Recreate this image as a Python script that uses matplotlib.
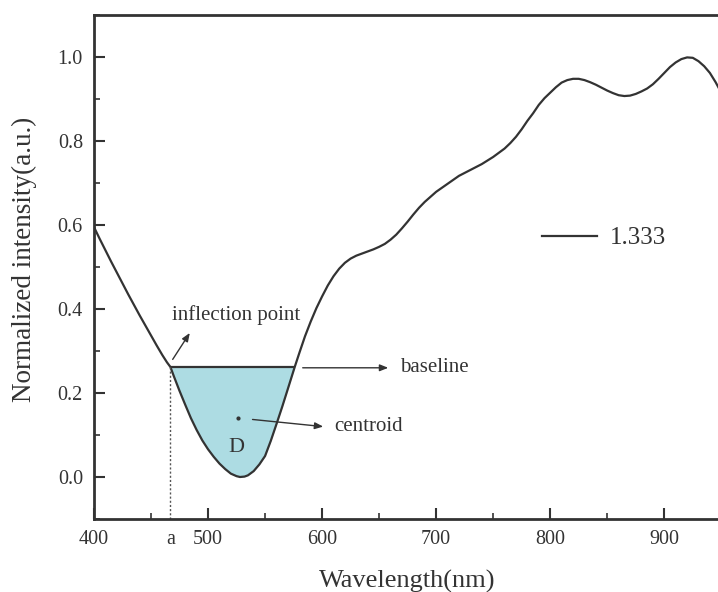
import numpy as np
import matplotlib
matplotlib.use("Agg")
import matplotlib.pyplot as plt
from matplotlib.ticker import MultipleLocator

plt.rcParams['font.family'] = ['Liberation Serif', 'DejaVu Serif']

# ---- data ----
wavelength = [400, 405, 410, 415, 420, 425, 430, 435, 440, 445, 450, 455, 460, 464, 467,
              470, 475, 480, 485, 490, 495, 500, 505, 510, 515, 520, 525, 528, 532, 535,
              540, 545, 550, 555, 560, 565, 570, 576, 580, 585, 590, 595, 600, 605, 610,
              615, 620, 625, 630, 635, 640, 645, 650, 655, 660, 665, 670, 675, 680, 685,
              690, 695, 700, 710, 720, 730, 740, 750, 760, 765, 770, 775, 780, 785, 790,
              795, 800, 805, 810, 815, 820, 825, 830, 835, 840, 845, 850, 855, 860, 865,
              870, 875, 880, 885, 890, 895, 900, 905, 910, 915, 920, 925, 930, 935, 940,
              945, 950]
intensity = [0.595, 0.567, 0.540, 0.513, 0.487, 0.461, 0.435, 0.410, 0.385, 0.361, 0.337, 0.313, 0.290, 0.273, 0.262,
             0.240, 0.205, 0.172, 0.140, 0.112, 0.087, 0.066, 0.048, 0.032, 0.019, 0.008, 0.002, 0.0, 0.001, 0.004,
             0.014, 0.030, 0.050, 0.086, 0.126, 0.167, 0.210, 0.262, 0.295, 0.335, 0.370, 0.402, 0.430, 0.456, 0.478,
             0.496, 0.510, 0.520, 0.527, 0.532, 0.537, 0.542, 0.548, 0.555, 0.565, 0.577, 0.592, 0.608, 0.625, 0.641,
             0.655, 0.667, 0.679, 0.698, 0.717, 0.731, 0.745, 0.762, 0.782, 0.795, 0.810, 0.828, 0.848, 0.866, 0.886,
             0.902, 0.915, 0.928, 0.939, 0.945, 0.948, 0.948, 0.945, 0.940, 0.934, 0.927, 0.920, 0.914, 0.909, 0.907,
             0.908, 0.912, 0.918, 0.925, 0.935, 0.948, 0.962, 0.976, 0.987, 0.995, 0.999, 0.998, 0.990, 0.978, 0.962,
             0.940, 0.915]
series_label = "1.333"
inflection_x = 467
right_x = 576
baseline_y = 0.262
centroid = (526, 0.14)
xtick_values = [400, 467, 500, 600, 700, 800, 900]
xtick_labels = ["400", "a", "500", "600", "700", "800", "900"]
ytick_values = [0.0, 0.2, 0.4, 0.6, 0.8, 1.0]
ytick_labels = ["0.0", "0.2", "0.4", "0.6", "0.8", "1.0"]

x = np.array(wavelength)
y = np.array(intensity)

fig = plt.figure(figsize=(7.18, 5.92), dpi=100)
ax = fig.add_axes([0.1309, 0.1233, 0.8737, 0.8514])
dark = '#333333'

ax.plot(x, y, color=dark, lw=1.6, label=series_label)

mask = (x >= inflection_x) & (x <= right_x)
ax.fill_between(x, y, baseline_y, where=mask, color='#ADDCE3', lw=0)
ax.hlines(baseline_y, inflection_x, right_x, color=dark, lw=1.6)
ax.vlines(inflection_x, -0.1, baseline_y, color='#555555', lw=1.0, linestyles=(0, (1.5, 1.5)))
ax.plot([centroid[0]], [centroid[1]], 'o', ms=2, color=dark)

ax.set_xlim(400, 950)
ax.set_ylim(-0.1, 1.1)

arrow = dict(arrowstyle='-|>,head_length=0.5,head_width=0.2', color=dark, lw=1.0, shrinkA=0, shrinkB=0)
ax.annotate('', xy=(484, 0.343), xytext=(469, 0.28), arrowprops=arrow)
ax.text(525, 0.386, 'inflection point', ha='center', va='center', fontsize=15, color=dark)
ax.annotate('', xy=(658, 0.26), xytext=(583, 0.26), arrowprops=arrow)
ax.text(668, 0.26, 'baseline', ha='left', va='center', fontsize=15, color=dark)
ax.annotate('', xy=(601, 0.12), xytext=(539, 0.137), arrowprops=arrow)
ax.text(611, 0.12, 'centroid', ha='left', va='center', fontsize=15, color=dark)
ax.text(525, 0.07, 'D', ha='center', va='center', fontsize=16, color=dark)

ax.set_xticks(xtick_values)
ax.set_xticklabels(xtick_labels)
ax.set_yticks(ytick_values)
ax.set_yticklabels(ytick_labels)
ax.xaxis.set_minor_locator(MultipleLocator(50))
ax.yaxis.set_minor_locator(MultipleLocator(0.1))
ax.tick_params(which='major', direction='in', length=8, width=1.5, colors=dark, labelsize=14.5, pad=8)
ax.tick_params(which='minor', direction='in', length=4, width=1.2, colors=dark)
ax.xaxis.get_major_ticks()[1].tick1line.set_visible(False)

for s in ['left', 'bottom', 'top']:
    ax.spines[s].set_linewidth(2)
    ax.spines[s].set_color(dark)
ax.spines['right'].set_visible(False)

ax.set_xlabel('Wavelength(nm)', fontsize=19, color=dark, labelpad=15)
ax.set_ylabel('Normalized intensity(a.u.)', fontsize=19.5, color=dark, labelpad=15)
ax.yaxis.label.set_y(0.515)

ax.legend(loc='center left', bbox_to_anchor=(793, 0.569), bbox_transform=ax.transData,
          frameon=False, fontsize=18, handlelength=2.2, handletextpad=0.5,
          borderpad=0, borderaxespad=0, labelcolor=dark)

fig.savefig('out.png', dpi=100)
